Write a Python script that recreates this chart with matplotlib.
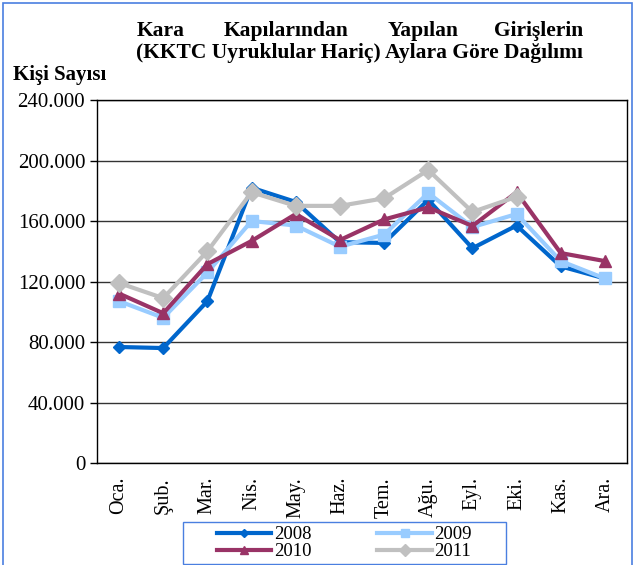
import matplotlib.pyplot as plt
from matplotlib.patches import Rectangle
from matplotlib.ticker import FuncFormatter

months = ["Oca.", "Şub.", "Mar.", "Nis.", "May.", "Haz.", "Tem.", "Ağu.", "Eyl.", "Eki.", "Kas.", "Ara."]
y2008 = [76700, 76000, 107000, 182000, 172600, 146000, 145500, 174000, 142000, 157000, 130000, 122000]
y2009 = [107000, 96000, 126000, 160000, 157000, 143000, 151000, 178500, 156000, 164600, 133500, 122000]
y2010 = [112000, 99000, 131500, 146800, 164600, 147400, 161000, 169000, 156700, 179000, 138800, 133500]
y2011 = [119000, 109000, 140000, 179000, 170000, 170000, 175000, 193700, 166000, 176000]
years = ["2008", "2009", "2010", "2011"]

plt.rcParams["font.family"] = ["Liberation Serif", "DejaVu Serif"]

W, H = 640, 565


def fx(px):
    return px / W


def fy(py):
    return 1 - py / H


fig = plt.figure(figsize=(6.4, 5.65), dpi=100)
blue = "#4a7fe0"
fig.patches.append(Rectangle((fx(3), -0.05), fx(629), 1.05 - 3 / H, transform=fig.transFigure,
                             fill=False, edgecolor=blue, lw=1.2))
# legend box
fig.patches.append(Rectangle((fx(183), fy(564)), fx(323), 42 / H, transform=fig.transFigure,
                             fill=False, edgecolor=blue, lw=1))

ax = fig.add_axes([fx(97), fy(463), fx(530), 363 / H])
x = list(range(len(months)))
styles = [
    (y2008, "#0066CC", "D", 6),
    (y2009, "#99CCFF", "s", 8),
    (y2010, "#993366", "^", 9),
    (y2011, "#C0C0C0", "D", 9),
]
lines = []
for (vals, color, marker, ms), label in zip(styles, years):
    ln, = ax.plot(x[:len(vals)], vals, color=color, lw=3, marker=marker, ms=ms, label=label,
                  solid_joinstyle="miter")
    lines.append(ln)

ax.set_xlim(-0.5, 11.5)
ax.set_ylim(0, 240000)
ax.set_yticks(range(0, 240001, 40000))
ax.yaxis.set_major_formatter(FuncFormatter(lambda v, p: "0" if v == 0 else f"{int(v):,}".replace(",", ".")))
ax.set_xticks(x)
ax.set_xticklabels(months, rotation=90, fontsize=14.5)
ax.tick_params(axis="x", length=0, pad=10)
ax.tick_params(axis="y", labelsize=15, length=5, width=1, direction="out")
ax.grid(axis="y", color="#333333", lw=1)
ax.set_axisbelow(True)
for s in ax.spines.values():
    s.set_color("black")
    s.set_linewidth(1)

# justified two-line title
tkw = dict(fontsize=15.5, fontweight="bold", va="baseline")
fig.text(fx(137), fy(36), "Kara", ha="left", **tkw)
fig.text(fx(224), fy(36), "Kapılarından", ha="left", **tkw)
fig.text(fx(388), fy(36), "Yapılan", ha="left", **tkw)
fig.text(fx(583), fy(36), "Girişlerin", ha="right", **tkw)
fig.text(fx(136), fy(58), "(KKTC Uyruklular Hariç) Aylara Göre Dağılımı", ha="left", **tkw)
fig.text(fx(13), fy(80), "Kişi Sayısı", fontsize=15, fontweight="bold", va="baseline", ha="left")

order = [0, 2, 1, 3]
leg = fig.legend([lines[i] for i in order], [years[i] for i in order], loc="upper left",
                 bbox_to_anchor=(fx(217), fy(526)), ncol=2, fontsize=13.5,
                 frameon=False, handlelength=2.9, columnspacing=3.5,
                 labelspacing=0.0, borderpad=0, handletextpad=0.15, markerscale=0.7,
                 borderaxespad=0)

fig.savefig("out.png", dpi=100)
